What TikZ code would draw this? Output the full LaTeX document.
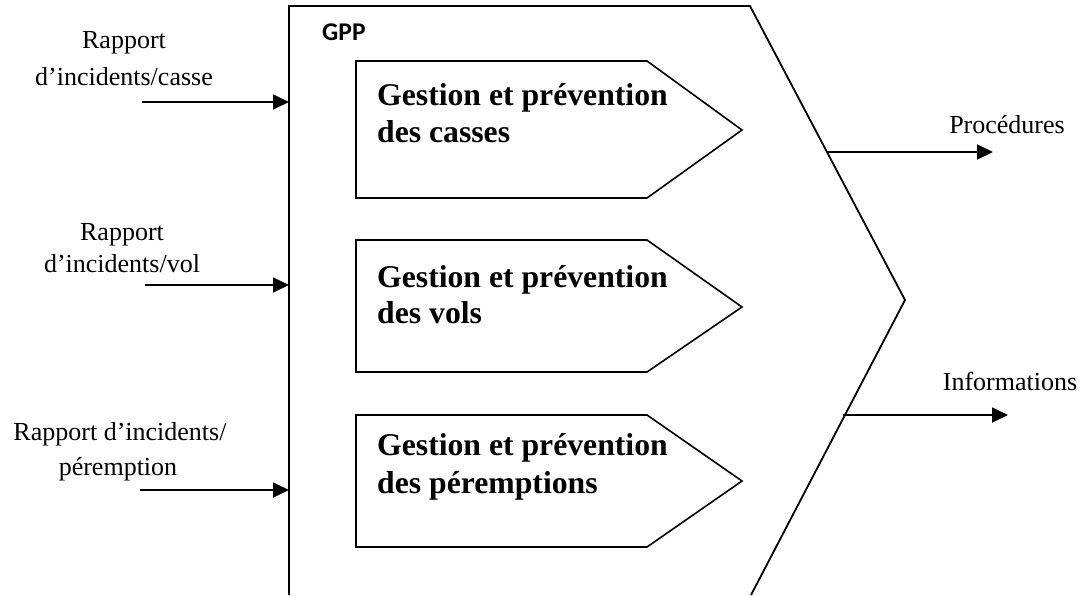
\documentclass[tikz,border=0pt]{standalone}
\usepackage{fontspec}
\setmainfont{Liberation Serif}
\newfontfamily\gppfont{Carlito}
\usetikzlibrary{arrows.meta}
\begin{document}
\begin{tikzpicture}[x=1pt,y=-1pt,
  frame/.style={line width=1.8pt},
  tab/.style={line width=1.6pt},
  flow/.style={line width=1.8pt,-{Triangle[length=16pt,width=15pt]}},
  lbl/.style={font=\fontsize{26}{30}\selectfont,anchor=base,inner sep=0pt},
  boxtext/.style={font=\fontsize{31.7}{37}\selectfont\bfseries,anchor=base west,inner sep=0pt}]
\useasboundingbox (0,0) rectangle (1082,595);

% outer process shape (open at the bottom)
\draw[frame] (289,595) -- (289,6) -- (750,6) -- (905,300) -- (751,595);
\node[font=\gppfont\bfseries\fontsize{25.5}{28}\selectfont,anchor=base west,inner sep=0pt] (gpp) at (322,40) {GPP};

% sub-processes
\draw[tab] (356,61) -- (647,61) -- (742,130) -- (647,198) -- (356,198) -- cycle;
\node[boxtext] (t1a) at (377,105) {Gestion et prévention};
\node[boxtext] (t1b) at (377,142) {des casses};

\draw[tab] (356,240) -- (647,240) -- (742,307) -- (647,372) -- (356,372) -- cycle;
\node[boxtext] (t2a) at (377,287) {Gestion et prévention};
\node[boxtext] (t2b) at (377,323) {des vols};

\draw[tab] (356,415) -- (647,415) -- (742,481) -- (647,547) -- (356,547) -- cycle;
\node[boxtext] (t3a) at (377,455) {Gestion et prévention};
\node[boxtext] (t3b) at (377,493) {des péremptions};

% inputs
\node[lbl] (r1a) at (124,48) {Rapport};
\node[lbl] (r1b) at (124,85) {d’incidents/casse};
\coordinate (s1) at (142,102);
\coordinate (in1) at (289,102);
\draw[flow] (s1) -- (in1);

\node[lbl] (r2a) at (122,240) {Rapport};
\node[lbl] (r2b) at (122,272) {d’incidents/vol};
\coordinate (s2) at (145,285);
\coordinate (in2) at (289,285);
\draw[flow] (s2) -- (in2);

\node[lbl] (r3a) at (120,440) {Rapport d’incidents/};
\node[lbl] (r3b) at (118,475) {péremption};
\coordinate (s3) at (140,490);
\coordinate (in3) at (289,490);
\draw[flow] (s3) -- (in3);

% outputs
\coordinate (o1) at (827,152);
\coordinate (e1) at (993,152);
\draw[flow] (o1) -- (e1);
\node[lbl] (p1) at (1007,133) {Procédures};

\coordinate (o2) at (843,415);
\coordinate (e2) at (1008,415);
\draw[flow] (o2) -- (e2);
\node[lbl] (p2) at (1010,390) {Informations};
\end{tikzpicture}
\end{document}
